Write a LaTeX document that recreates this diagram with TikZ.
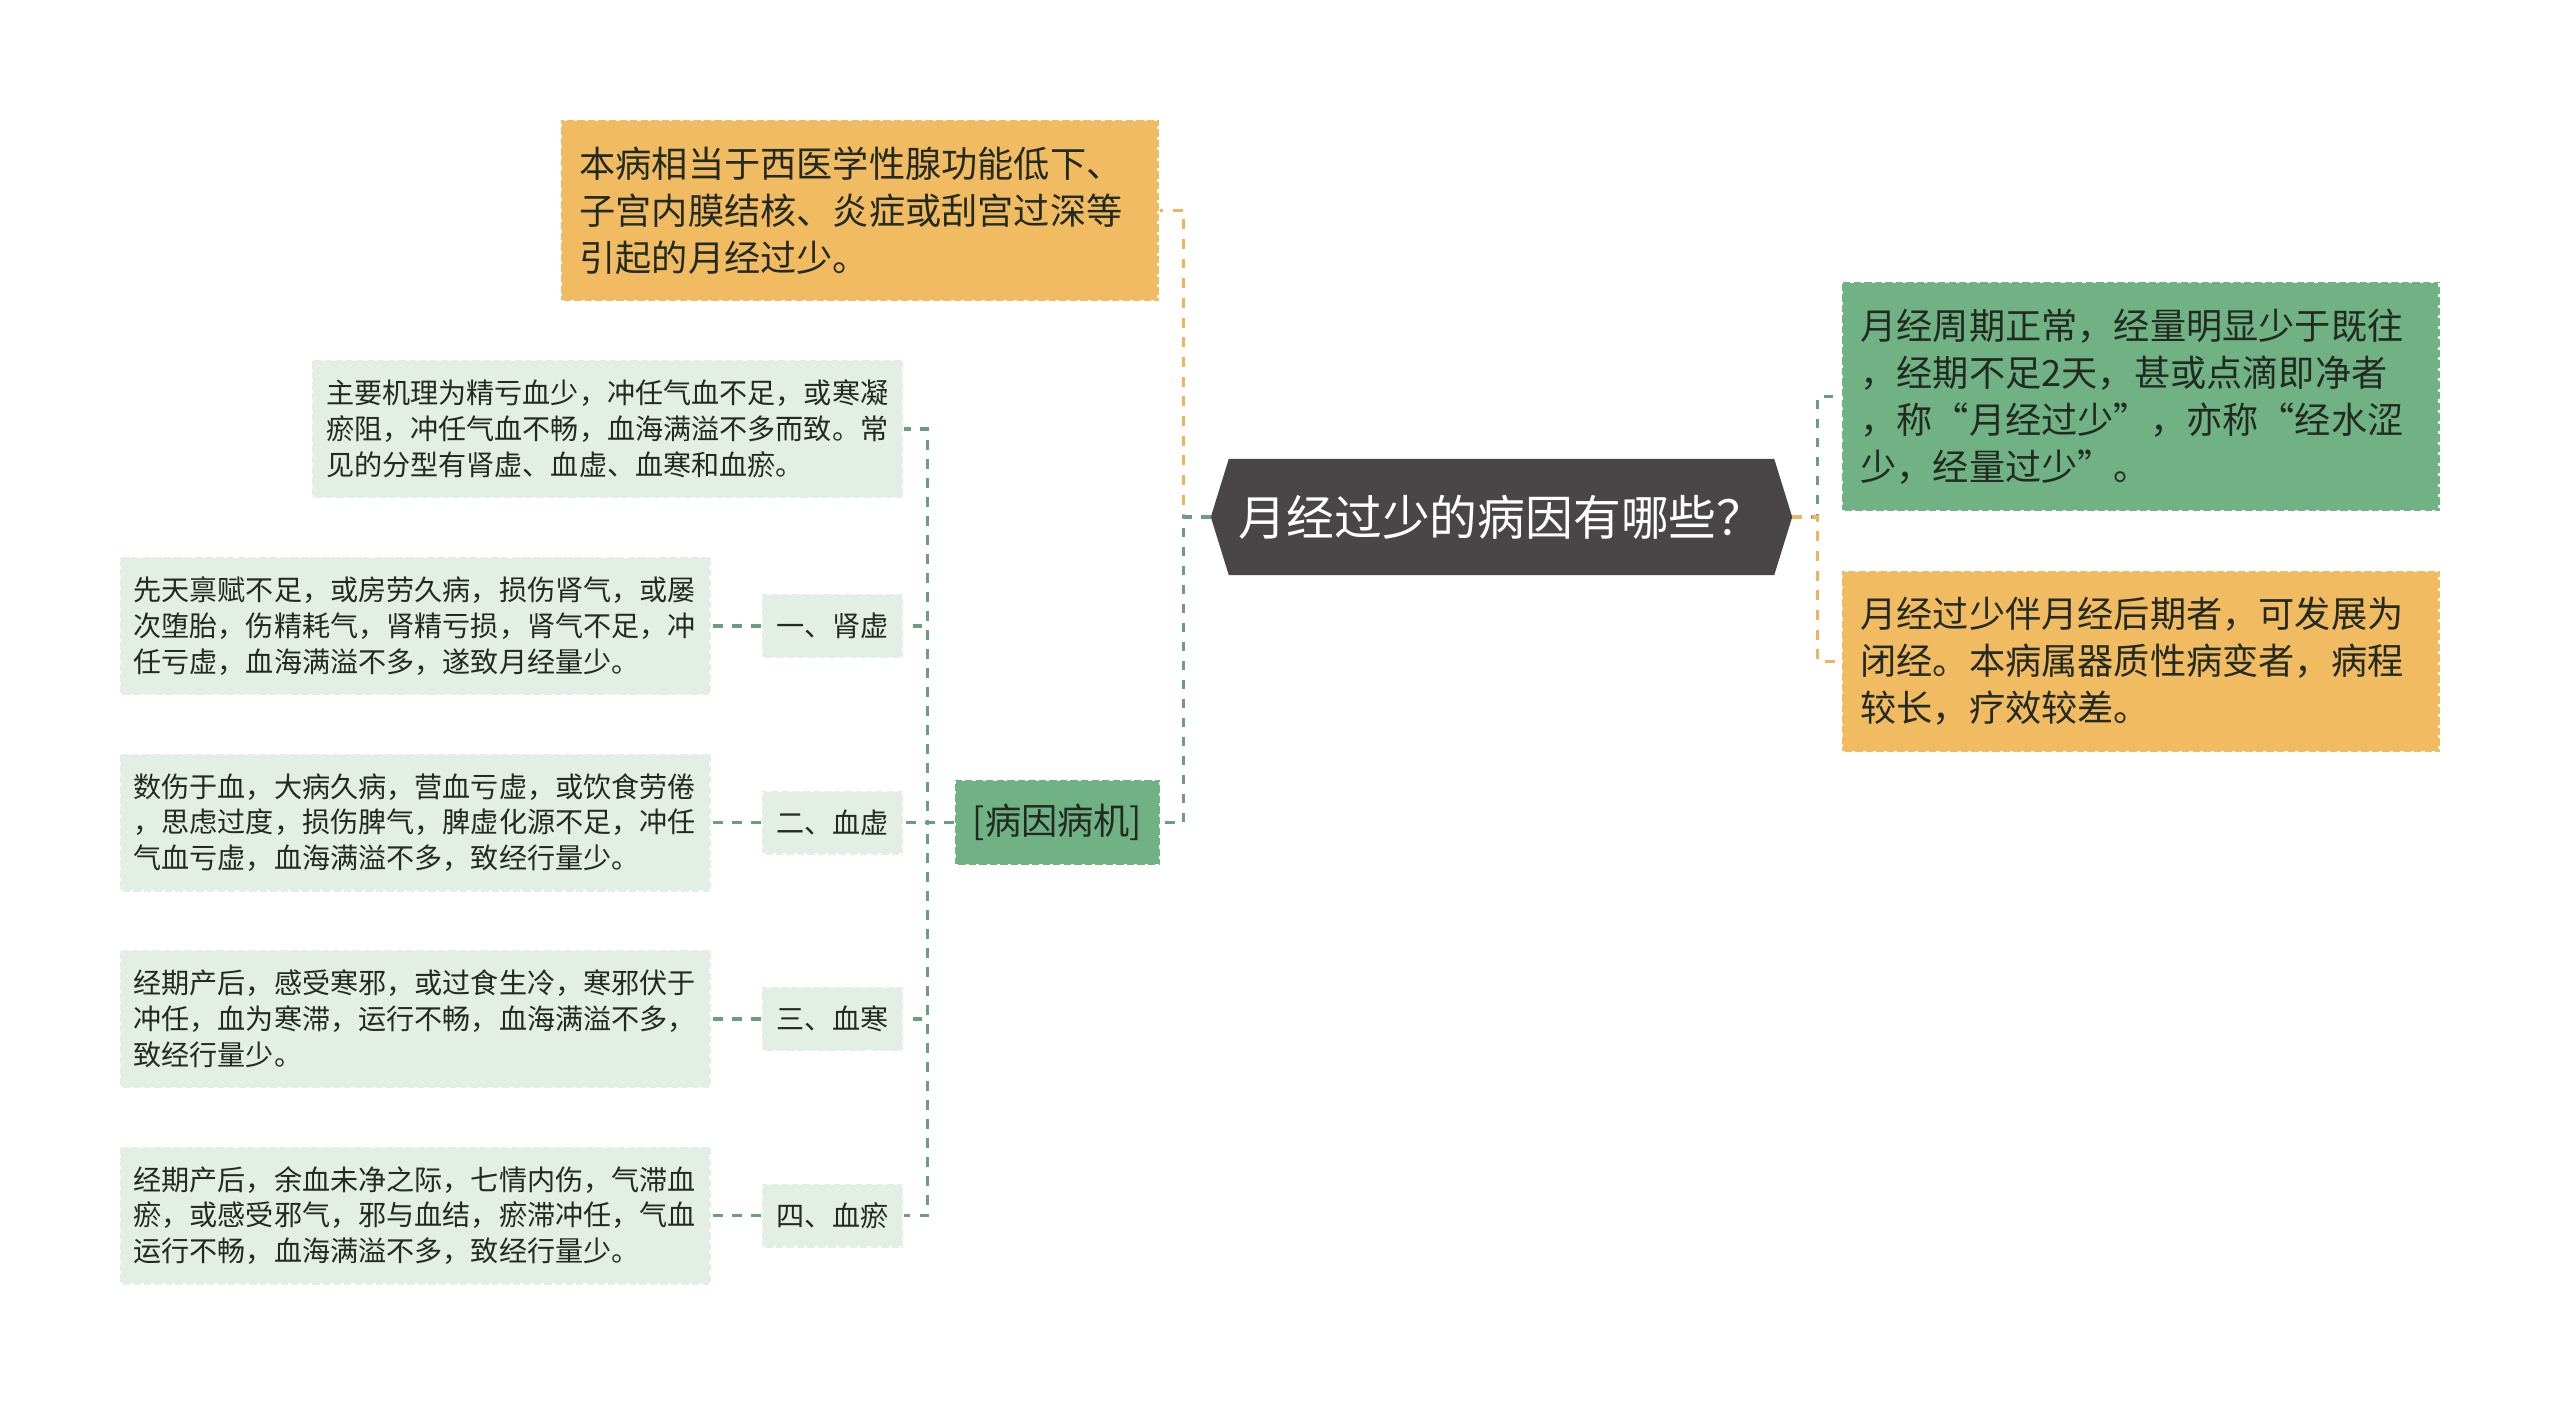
\documentclass[tikz,border=0pt]{standalone}
\usepackage{fontspec}
\setmainfont{Noto Sans CJK SC}
\usepackage{xcolor}
\usetikzlibrary{backgrounds}
\definecolor{rootgray}{RGB}{74,69,70}
\definecolor{boxorange}{RGB}{241,187,98}
\definecolor{boxgreen}{RGB}{112,178,132}
\definecolor{boxpale}{RGB}{227,239,229}
\definecolor{linegreen}{RGB}{108,158,126}
\definecolor{lineorange}{RGB}{238,182,92}
\definecolor{inkdark}{RGB}{34,42,34}
\tikzset{
  edgebox/.style={rectangle, draw=white, line width=0.8pt, dash pattern=on 0.9pt off 2.1pt, inner ysep=0pt, align=left, text=inkdark},
  bigbox/.style={edgebox, inner xsep=0.19cm, text width=5.6cm, font=\fontsize{10.3}{13.4}\selectfont},
  smallbox/.style={edgebox, fill=boxpale, inner xsep=0.14cm, text width=5.63cm, minimum height=1.38cm, font=\fontsize{8}{10.2}\selectfont},
  catbox/.style={edgebox, fill=boxpale, align=center, inner xsep=0pt, minimum width=1.41cm, minimum height=0.64cm, font=\fontsize{8}{10.2}\selectfont},
  gline/.style={linegreen, line width=0.9pt, dash pattern=on 2.7pt off 2.7pt},
  oline/.style={lineorange, line width=0.9pt, dash pattern=on 2.8pt off 2.8pt}
}

\begin{document}
\begin{tikzpicture}
\useasboundingbox (0,0) rectangle (25.6,-14.05);

\node[text=white, inner sep=0pt, minimum width=5.44cm, minimum height=1.15cm, font=\fontsize{13.6}{16}\selectfont] (root) at (15.015,-5.17) {月经过少的病因有哪些？};
\coordinate (rootL) at ([xshift=-0.18cm]root.west);
\coordinate (rootR) at ([xshift=0.18cm]root.east);
\begin{scope}[on background layer]
\fill[rootgray] (root.north west) -- (root.north east) -- (rootR) -- (root.south east) -- (root.south west) -- (rootL) -- cycle;
\end{scope}

\node[bigbox, fill=boxorange, minimum height=1.81cm] (ctx) at (8.595,-2.105) {本病相当于西医学性腺功能低下、\\子宫内膜结核、炎症或刮宫过深等\\引起的月经过少。};
\node[bigbox, fill=boxgreen, minimum height=2.29cm] (def) at (21.405,-3.965) {月经周期正常，经量明显少于既往\\，经期不足2天，甚或点滴即净者\\，称“月经过少”，亦称“经水涩\\少，经量过少”。};
\node[bigbox, fill=boxorange, minimum height=1.81cm] (prog) at (21.405,-6.615) {月经过少伴月经后期者，可发展为\\闭经。本病属器质性病变者，病程\\较长，疗效较差。};
\node[edgebox, fill=boxgreen, align=center, inner sep=0pt, minimum width=2.05cm, minimum height=0.85cm, font=\fontsize{10.3}{13.4}\selectfont] (cause) at (10.575,-8.225) {[病因病机]};
\node[smallbox] (mech) at (6.075,-4.29) {主要机理为精亏血少，冲任气血不足，或寒凝\\瘀阻，冲任气血不畅，血海满溢不多而致。常\\见的分型有肾虚、血虚、血寒和血瘀。};

\draw[oline] (rootL) -- ++(-0.27,0) |- (ctx.east);
\draw[gline] (rootL) -- ++(-0.27,0) |- (cause.east);
\draw[gline] (rootR) -- ++(0.25,0) |- (def.west);
\draw[oline] (rootR) -- ++(0.25,0) |- (prog.west);
\draw[gline] (cause.west) -- ++(-0.26,0) |- (mech.east);

\foreach \i/\lab/\txt in {
  1/一、肾虚/{先天禀赋不足，或房劳久病，损伤肾气，或屡\\次堕胎，伤精耗气，肾精亏损，肾气不足，冲\\任亏虚，血海满溢不多，遂致月经量少。},
  2/二、血虚/{数伤于血，大病久病，营血亏虚，或饮食劳倦\\，思虑过度，损伤脾气，脾虚化源不足，冲任\\气血亏虚，血海满溢不多，致经行量少。},
  3/三、血寒/{经期产后，感受寒邪，或过食生冷，寒邪伏于\\冲任，血为寒滞，运行不畅，血海满溢不多，\\致经行量少。},
  4/四、血瘀/{经期产后，余血未净之际，七情内伤，气滞血\\瘀，或感受邪气，邪与血结，瘀滞冲任，气血\\运行不畅，血海满溢不多，致经行量少。}}
{
  \pgfmathsetmacro{\ypos}{-6.26-1.965*(\i-1)}
  \node[catbox] (cat\i) at (8.325,\ypos) {\lab};
  \node[smallbox] (det\i) at (4.15,\ypos) {\txt};
  \draw[gline] (cat\i.west) -- (det\i.east);
  \draw[gline] (cause.west) -- ++(-0.26,0) |- (cat\i.east);
}
\end{tikzpicture}
\end{document}
